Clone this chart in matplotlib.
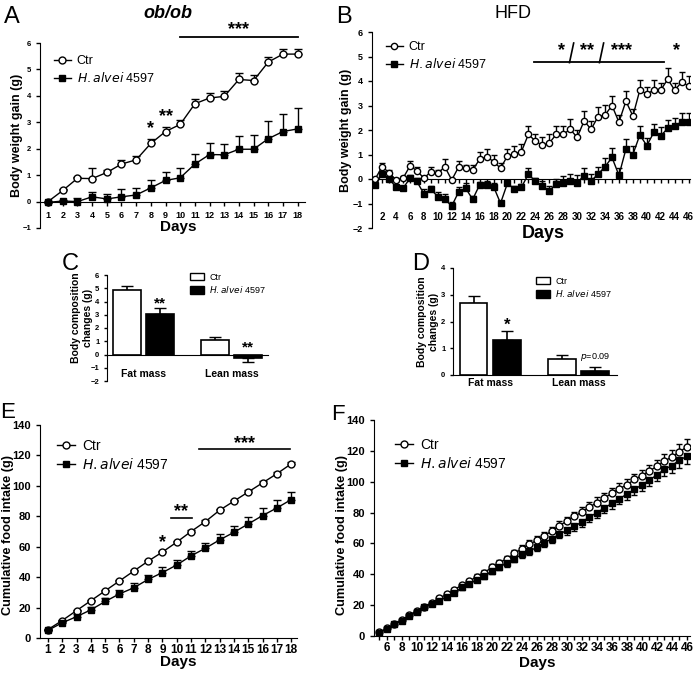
import matplotlib
matplotlib.use("Agg")
import matplotlib.pyplot as plt
from matplotlib.patches import Patch
from matplotlib.lines import Line2D
import numpy as np

plt.rcParams['font.family'] = ['Liberation Sans', 'DejaVu Sans']

# ---- data ----
# A: ob/ob body weight gain
days_a = list(range(1, 19))
ctr_a = [0, 0.42, 0.88, 0.87, 1.1, 1.42, 1.58, 2.2, 2.65, 2.92, 3.7, 3.92, 3.98, 4.62, 4.58, 5.28, 5.58, 5.58]
ctr_a_err = [0, 0.05, 0.04, 0.4, 0.08, 0.15, 0.15, 0.15, 0.18, 0.15, 0.18, 0.18, 0.2, 0.25, 0.2, 0.2, 0.2, 0.18]
hal_a = [-0.03, 0.02, 0.0, 0.18, 0.1, 0.18, 0.25, 0.52, 0.8, 0.9, 1.42, 1.78, 1.77, 1.98, 1.98, 2.38, 2.65, 2.75]
hal_a_err = [0, 0.05, 0.15, 0.2, 0.2, 0.28, 0.28, 0.3, 0.32, 0.38, 0.38, 0.45, 0.42, 0.5, 0.55, 0.65, 0.65, 0.78]

# B: HFD body weight gain
days_b = list(range(1, 47))
ctr_b = [0, 0.5, 0.26, -0.04, 0.03, 0.53, 0.34, 0.03, 0.3, 0.23, 0.5, -0.04, 0.5, 0.44, 0.37,
         0.8, 0.91, 0.71, 0.44, 0.94, 1.03, 1.12, 1.82, 1.55, 1.37, 1.47, 1.82, 1.82, 2.03, 1.7,
         2.37, 2.03, 2.54, 2.61, 3.0, 2.32, 3.18, 2.57, 3.63, 3.47, 3.63, 3.63, 4.07, 3.63, 3.95, 3.8]
ctr_b_err = [0.05, 0.15, 0.1, 0.1, 0.1, 0.2, 0.15, 0.1, 0.2, 0.15, 0.3, 0.05, 0.25, 0.15, 0.2,
             0.3, 0.3, 0.25, 0.2, 0.3, 0.3, 0.3, 0.35, 0.3, 0.35, 0.35, 0.35, 0.35, 0.4, 0.3,
             0.4, 0.35, 0.4, 0.4, 0.4, 0.3, 0.4, 0.3, 0.4, 0.3, 0.4, 0.3, 0.45, 0.3, 0.4, 0.4]
hal_b = [-0.24, 0.2, 0.02, -0.34, -0.38, 0.03, -0.1, -0.61, -0.42, -0.72, -0.83, -1.1, -0.52, -0.38, -0.83,
         -0.24, -0.24, -0.31, -0.99, -0.17, -0.42, -0.34, 0.2, -0.1, -0.29, -0.48, -0.2, -0.18, -0.08, -0.15,
         0.14, -0.08, 0.2, 0.5, 0.88, 0.15, 1.22, 1.0, 1.8, 1.36, 1.9, 1.76, 2.07, 2.16, 2.34, 2.34]
hal_b_err = [0.05, 0.2, 0.1, 0.1, 0.1, 0.15, 0.15, 0.2, 0.15, 0.2, 0.2, 0.15, 0.2, 0.2, 0.15,
             0.1, 0.15, 0.15, 0.1, 0.1, 0.15, 0.15, 0.25, 0.15, 0.2, 0.2, 0.2, 0.3, 0.3, 0.3,
             0.3, 0.3, 0.3, 0.35, 0.4, 0.3, 0.4, 0.35, 0.35, 0.3, 0.35, 0.35, 0.35, 0.35, 0.35, 0.35]

# C / D: body composition changes
groups = ['Fat mass', 'Lean mass']
ctr_c = [4.9, 1.1]
ctr_c_err = [0.25, 0.2]
hal_c = [3.05, -0.3]
hal_c_err = [0.45, 0.3]
ctr_d = [2.68, 0.58]
ctr_d_err = [0.28, 0.18]
hal_d = [1.3, 0.15]
hal_d_err = [0.35, 0.15]

# E: ob/ob cumulative food intake
ctr_e = [5.5, 11.5, 18, 24.5, 31, 37.5, 44, 50.5, 56.5, 63, 70, 76.5, 84, 90, 96, 102, 108, 114.5]
ctr_e_err = [0.5, 0.5, 0.6, 0.6, 0.7, 0.7, 0.8, 0.8, 0.9, 0.9, 1, 1, 1, 1, 1, 1, 1, 1]
hal_e = [5, 10, 14, 18.5, 24, 29, 33, 38.5, 43, 48, 54, 59, 64.5, 69.5, 75, 80.5, 85.5, 91]
hal_e_err = [0.5, 1, 1.5, 2, 2, 2.5, 3, 3, 3.5, 3.5, 3.5, 3.5, 4, 4, 4.5, 5, 5, 5]

# F: HFD cumulative food intake
days_f = list(range(5, 47))
ctr_f = [2.5, 5, 7.5, 10.5, 13.5, 16.5, 19, 21.5, 24.5, 27, 30, 33, 35.5, 38.5, 41, 44.5, 47.5, 50,
         53.5, 56.5, 59.5, 62, 65, 68, 71.5, 74.5, 77.5, 80.5, 83.5, 86.5, 89.5, 92.5, 95.5, 98,
         101.5, 104, 107, 110, 113.5, 116, 119.5, 122.5]
ctr_f_err = [0.5, 0.6, 0.7, 0.8, 0.9, 1, 1, 1.1, 1.2, 1.3, 1.4, 1.5, 1.6, 1.7, 1.8, 1.9, 2, 2.1,
             2.2, 2.3, 2.4, 2.5, 2.6, 2.7, 2.8, 2.9, 3, 3.1, 3.2, 3.3, 3.4, 3.5, 3.6, 3.7,
             3.8, 3.9, 4, 4.2, 4.4, 4.6, 4.8, 5]
hal_f = [2, 4.5, 7.5, 10, 13, 15.5, 18.5, 20.5, 23, 25.5, 28, 31.5, 34, 36.5, 39, 42, 45, 47,
         50, 53, 55, 57.5, 60.5, 63, 66, 68.5, 71, 74, 77, 80, 83, 86, 89, 92, 95, 98, 101,
         104.5, 108, 110.5, 114, 116.5]
hal_f_err = ctr_f_err

W, H = 698, 674
fig = plt.figure(figsize=(W / 100, H / 100), dpi=100)


def px(l, t, r, b):
    return [l / W, 1 - b / H, (r - l) / W, (b - t) / H]


def ftext(x, y, s, **kw):
    # text placed by pixel position from top-left
    return fig.text(x / W, 1 - y / H, s, ha='center', va='center', **kw)


def ylab(ax, s, x, y, fs):
    ax.set_ylabel(s, fontsize=fs, fontweight='bold')
    ax.yaxis.set_label_coords(x / W, 1 - y / H, transform=fig.transFigure)
    ax.yaxis.label.set_va('center')


def style(ax, tsize, ysize=None):
    ax.spines['top'].set_visible(False)
    ax.spines['right'].set_visible(False)
    ax.tick_params(direction='out', length=3, width=1, labelsize=tsize)
    if ysize:
        ax.tick_params(axis='y', labelsize=ysize)
    for lab in ax.get_xticklabels() + ax.get_yticklabels():
        lab.set_fontweight('bold')


def lines(ax, x, y1, e1, y2, e2, ms, cap, down2=False):
    z1 = np.zeros(len(e1))
    ax.errorbar(x, y1, yerr=[z1, e1], fmt='-o', color='black', mfc='white', mec='black',
                ms=ms, lw=1, elinewidth=1, capsize=cap, zorder=3)
    err2 = [e2, np.zeros(len(e2))] if down2 else [np.zeros(len(e2)), e2]
    ax.errorbar(x, y2, yerr=err2, fmt='-s', color='black', mfc='black', mec='black',
                ms=ms, lw=1, elinewidth=1, capsize=cap, zorder=3)


def leg(ax, x, y, fs, ms):
    h = [Line2D([], [], color='black', marker='o', mfc='white', ms=ms, lw=1),
         Line2D([], [], color='black', marker='s', mfc='black', ms=ms, lw=1)]
    l = ax.legend(h, ['Ctr', 'H.alvei 4597'], loc='upper left', bbox_to_anchor=(x / W, 1 - y / H),
                  bbox_transform=fig.transFigure, frameon=False, fontsize=fs,
                  handlelength=1.3, handletextpad=0.5, labelspacing=0.3, borderpad=0)
    l.get_texts()[1].set_text('$\\it{H.alvei}$ 4597')
    return l


# ---- A ----
axA = fig.add_axes(px(40, 43, 305, 228))
lines(axA, days_a, ctr_a, ctr_a_err, hal_a, hal_a_err, 5, 3)
axA.set_xlim(0.45, 18.5)
axA.set_ylim(-1, 6)
axA.spines['bottom'].set_position(('data', 0))
axA.set_xticks(days_a)
axA.set_yticks(range(-1, 7))
style(axA, 6.5, 5.5)
ylab(axA, 'Body weight gain (g)', 17, 135, 9)
ftext(178, 227, 'Days', fontsize=11, fontweight='bold')
ftext(168, 14, 'ob/ob', fontsize=13, fontweight='bold', style='italic')
ftext(12, 17, 'A', fontsize=17)
axA.plot([10, 18], [6.23, 6.23], color='black', lw=1.3, clip_on=False)
axA.text(14, 6.5, '***', ha='center', va='center', fontsize=13, fontweight='bold')
axA.text(8, 2.75, '*', ha='center', va='center', fontsize=13, fontweight='bold')
axA.text(9, 3.2, '**', ha='center', va='center', fontsize=13, fontweight='bold')
leg(axA, 48, 49, 9, 5)

# ---- B ----
axB = fig.add_axes(px(372, 32, 690, 228))
lines(axB, days_b, ctr_b, ctr_b_err, hal_b, hal_b_err, 4.5, 2)
axB.set_xlim(0.55, 46.2)
axB.set_ylim(-2, 6)
axB.spines['bottom'].set_position(('data', 0))
axB.set_xticks(days_b)
axB.set_xticklabels([str(d) if d % 2 == 0 else '' for d in days_b])
axB.set_yticks(range(-2, 7))
axB.tick_params(axis='x', pad=21)
style(axB, 7, 6.5)
ylab(axB, 'Body weight gain (g)', 346, 130, 9)
ftext(543, 234, 'Days', fontsize=13, fontweight='bold')
ftext(513, 14, 'HFD', fontsize=13)
ftext(344, 17, 'B', fontsize=17)
axB.plot([23.8, 42.4], [4.78, 4.78], color='black', lw=1.3, clip_on=False)
axB.plot([28.9, 29.5], [4.75, 5.55], color='black', lw=1.2, clip_on=False)
axB.plot([33.2, 33.8], [4.75, 5.55], color='black', lw=1.2, clip_on=False)
axB.text(27.8, 5.25, '*', ha='center', va='center', fontsize=13, fontweight='bold')
axB.text(31.4, 5.25, '**', ha='center', va='center', fontsize=13, fontweight='bold')
axB.text(36.4, 5.25, '***', ha='center', va='center', fontsize=13, fontweight='bold')
axB.text(44.3, 5.25, '*', ha='center', va='center', fontsize=13, fontweight='bold')
leg(axB, 380, 35, 9, 4.5)


# ---- C / D bars ----
def bars(ax, xc, xh, c, ce, h, he, down_h):
    ax.bar(xc, c, width=1, color='white', edgecolor='black', lw=1.2, zorder=2)
    ax.bar(xh, h, width=1, color='black', edgecolor='black', lw=1.2, zorder=2)
    for x, v, e in zip(xc, c, ce):
        ax.errorbar(x, v, yerr=[[0], [e]], color='black', capsize=4, elinewidth=1.2, zorder=1)
    for x, v, e, d in zip(xh, h, he, down_h):
        ax.errorbar(x, v, yerr=[[e], [0]] if d else [[0], [e]], color='black', capsize=4,
                    elinewidth=1.2, zorder=1)


def bar_leg(ax, x, y):
    h = [Patch(facecolor='white', edgecolor='black'), Patch(facecolor='black', edgecolor='black')]
    l = ax.legend(h, ['Ctr', 'H.alvei 4597'], loc='upper left', bbox_to_anchor=(x / W, 1 - y / H),
                  bbox_transform=fig.transFigure, frameon=False, fontsize=6.5,
                  handlelength=1.6, handleheight=0.9, handletextpad=0.6, labelspacing=0.3, borderpad=0)
    l.get_texts()[1].set_text('$\\it{H.alvei}$ 4597')


axC = fig.add_axes(px(107, 275, 268, 381))
bars(axC, [0, 3.2], [1.2, 4.4], ctr_c, ctr_c_err, hal_c, hal_c_err, [False, True])
axC.set_xlim(-0.73, 5.13)
axC.set_ylim(-2, 6)
axC.spines['bottom'].set_position(('data', 0))
axC.set_xticks([])
axC.set_yticks(range(-2, 7))
style(axC, 5.5)
axC.tick_params(axis='y', length=2)
ylab(axC, 'Body composition\nchanges (g)', 82, 318, 7.5)
for x, g in zip([0.6, 3.8], groups):
    axC.text(x, -1.45, g, ha='center', va='center', fontsize=7.5, fontweight='bold')
axC.text(1.2, 3.85, '**', ha='center', va='center', fontsize=11, fontweight='bold')
axC.text(4.4, 0.55, '**', ha='center', va='center', fontsize=11, fontweight='bold')
ftext(70, 264, 'C', fontsize=17)
bar_leg(axC, 185, 268)

axD = fig.add_axes(px(453, 268, 617, 375))
bars(axD, [0, 3.2], [1.2, 4.4], ctr_d, ctr_d_err, hal_d, hal_d_err, [False, False])
axD.set_xlim(-0.75, 5.2)
axD.set_ylim(0, 4)
axD.set_xticks([0.6, 3.8])
axD.set_xticklabels(groups)
axD.set_yticks(range(0, 5))
style(axD, 5.5)
axD.tick_params(axis='x', length=0, labelsize=7.5, pad=2)
axD.tick_params(axis='y', length=2)
ylab(axD, 'Body composition\nchanges (g)', 428, 322, 7.5)
axD.text(1.2, 1.85, '*', ha='center', va='center', fontsize=12, fontweight='bold')
axD.text(4.4, 0.68, '$p$=0.09', ha='center', va='center', fontsize=6.5)
ftext(421, 264, 'D', fontsize=17)
bar_leg(axD, 531, 272)

# ---- E ----
axE = fig.add_axes(px(40, 425, 297, 638))
lines(axE, days_a, ctr_e, ctr_e_err, hal_e, hal_e_err, 5, 3)
axE.set_xlim(0.45, 18.4)
axE.set_ylim(0, 140)
axE.set_xticks(days_a)
axE.set_yticks(range(0, 141, 20))
style(axE, 8.5, 8)
axE.tick_params(axis='x', pad=1)
ylab(axE, 'Cumulative food intake (g)', 8, 535, 9.2)
ftext(178, 662, 'Days', fontsize=11, fontweight='bold')
ftext(8, 413, 'E', fontsize=16)
axE.plot([11.55, 17.9], [124, 124], color='black', lw=1.2)
axE.text(14.7, 128, '***', ha='center', va='center', fontsize=13, fontweight='bold')
axE.plot([9.6, 11.07], [79, 79], color='black', lw=1.2)
axE.text(10.3, 83, '**', ha='center', va='center', fontsize=13, fontweight='bold')
axE.text(9, 63, '*', ha='center', va='center', fontsize=13, fontweight='bold')
leg(axE, 50, 432, 10, 5)

# ---- F ----
axF = fig.add_axes(px(374, 420, 690, 636))
lines(axF, days_f, ctr_f, ctr_f_err, hal_f, hal_f_err, 5, 2.5, down2=True)
axF.set_xlim(4.3, 46.4)
axF.set_ylim(0, 140)
axF.set_xticks(days_f)
axF.set_xticklabels([str(d) if d % 2 == 0 else '' for d in days_f])
axF.set_yticks(range(0, 141, 20))
style(axF, 8.5, 8)
axF.tick_params(axis='x', pad=1)
ylab(axF, 'Cumulative food intake (g)', 342, 535, 9.2)
ftext(537, 663, 'Days', fontsize=11, fontweight='bold')
ftext(338, 414, 'F', fontsize=16)
leg(axF, 388, 431, 10, 5)

fig.savefig('out.png', dpi=100)
